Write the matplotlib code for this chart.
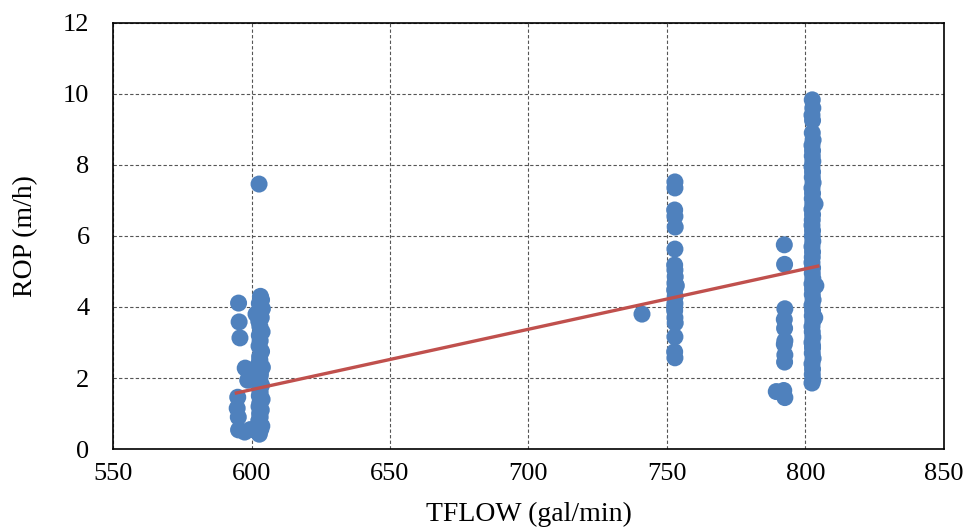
import numpy as np
import matplotlib.pyplot as plt

plt.rcParams['font.family'] = ['Liberation Serif', 'DejaVu Serif']

# Data
tflow_600 = [595.3, 595.5, 595.8, 595.0, 594.8, 595.2, 595.3, 597.7, 598.6, 597.5, 599.5, 601.0,
             602.7, 603.2, 603.6, 602.8, 601.6, 603.9, 602.9, 603.5, 602.6, 603.0, 603.8, 602.8,
             603.1, 602.7, 603.6, 602.9, 603.0, 602.6, 603.9, 602.8, 603.2, 603.0, 602.7, 603.6,
             602.9, 603.1, 602.8, 603.8, 603.0, 602.7, 603.5, 602.9, 603.1, 602.6, 603.7, 603.3,
             602.8]
rop_600 = [4.11, 3.58, 3.13, 1.46, 1.15, 0.90, 0.54, 2.28, 1.94, 0.48, 0.55, 0.55,
           7.46, 4.30, 4.20, 4.10, 3.80, 3.95, 3.85, 3.70, 3.60, 3.45, 3.30, 3.20,
           3.05, 2.90, 2.75, 2.60, 2.50, 2.40, 2.30, 2.20, 2.10, 2.00, 1.90, 1.80,
           1.70, 1.60, 1.50, 1.40, 1.30, 1.20, 1.10, 1.00, 0.90, 0.80, 0.65, 0.55,
           0.42]

tflow_750 = [741.0, 752.9, 752.9, 752.8, 752.9, 753.0, 752.9, 752.8, 752.9, 753.0, 752.9,
             752.8, 753.0, 752.9, 752.8, 752.9, 753.0, 752.9, 752.8, 752.9, 753.4, 752.8]
rop_750 = [3.80, 7.52, 7.35, 6.73, 6.55, 6.25, 5.63, 5.18, 5.04, 4.85, 4.67,
           4.48, 4.30, 4.10, 3.90, 3.70, 3.55, 3.16, 2.74, 2.57, 4.60, 4.00]

tflow_800 = [792.4, 792.5, 792.6, 792.4, 792.5, 792.6, 792.4, 792.6, 792.5, 789.5, 792.6, 792.2,
             802.5, 802.7, 802.4, 802.6, 802.5, 802.8, 802.4, 802.6, 802.5, 802.7, 802.4, 802.6,
             802.5, 802.8, 802.4, 802.6, 802.5, 802.7, 802.4, 802.6, 802.5, 803.5, 802.4, 802.6,
             802.5, 802.7, 802.4, 802.6, 802.5, 803.8, 802.4, 802.6, 802.5, 802.7, 802.4, 802.6,
             802.5, 802.8, 802.4, 802.6, 802.5, 802.7, 802.4, 803.4, 802.5, 802.7, 802.4, 802.6,
             802.5, 802.8, 802.4, 802.6, 802.5, 802.7, 802.4, 802.6]
rop_800 = [5.75, 5.20, 3.95, 3.65, 3.40, 3.05, 2.95, 2.65, 2.45, 1.62, 1.45, 1.65,
           9.83, 9.60, 9.40, 9.25, 8.90, 8.70, 8.55, 8.40, 8.25, 8.10, 7.95, 7.80,
           7.65, 7.50, 7.35, 7.20, 7.05, 6.90, 6.75, 6.60, 6.45, 6.90, 6.30, 6.15,
           6.00, 5.85, 5.70, 5.55, 5.40, 4.60, 5.25, 5.10, 4.95, 4.80, 4.65, 4.50,
           4.35, 4.20, 4.05, 3.90, 3.75, 3.60, 3.45, 3.70, 3.30, 3.15, 3.00, 2.85,
           2.70, 2.55, 2.40, 2.25, 2.10, 1.95, 1.86, 2.90]

# Linear trend line end points
trend_x = [594.5, 804.5]
trend_y = [1.58, 5.15]

fig, ax = plt.subplots(figsize=(9.67, 5.29), dpi=100)
fig.subplots_adjust(left=0.117, right=0.976, top=0.957, bottom=0.151)

point_color = '#4F81BD'
for x, y in [(tflow_600, rop_600), (tflow_750, rop_750), (tflow_800, rop_800)]:
    ax.scatter(x, y, s=150, color=point_color, edgecolors='none', zorder=3)
ax.plot(trend_x, trend_y, color='#C0504D', linewidth=2.4, zorder=4)

ax.set_xlim(550, 850)
ax.set_ylim(0, 12)
ax.set_xticks(np.arange(550, 851, 50))
ax.set_yticks(np.arange(0, 13, 2))
ax.grid(True, color='#555555', linestyle=(0, (3, 2)), linewidth=0.8)
ax.set_axisbelow(True)
ax.tick_params(length=0, labelsize=19)
ax.tick_params(axis='x', pad=10)
ax.tick_params(axis='y', pad=17)
for spine in ax.spines.values():
    spine.set_color('black')
    spine.set_linewidth(1.2)

ax.set_xlabel('TFLOW (gal/min)', fontsize=20, labelpad=12)
ax.set_ylabel('ROP (m/h)', fontsize=20, labelpad=18)

fig.savefig('out.png', dpi=100)
